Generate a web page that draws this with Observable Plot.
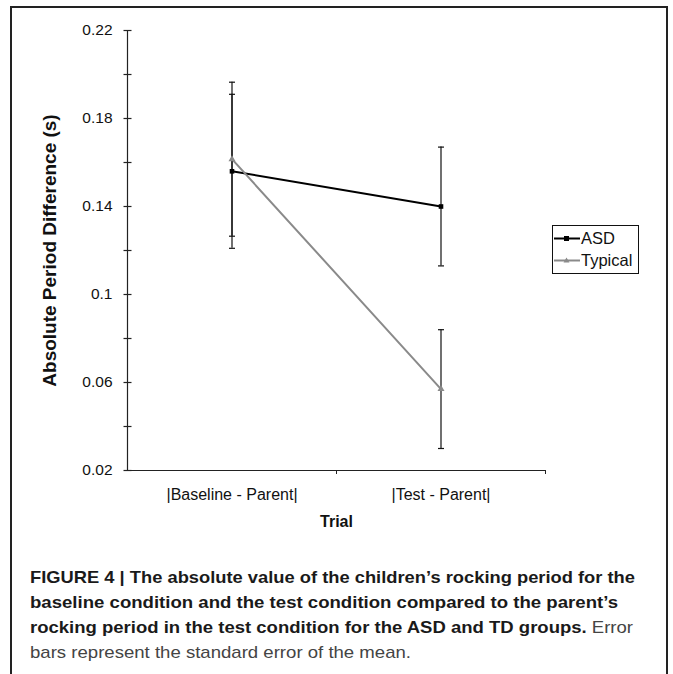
<!DOCTYPE html>
<html>
<head>
<meta charset="utf-8">
<script src="https://cdn.jsdelivr.net/npm/d3@7"></script>
<script src="https://cdn.jsdelivr.net/npm/@observablehq/plot@0.6"></script>
<style>
  html, body { margin: 0; padding: 0; background: #fff; }
  #page { position: relative; width: 673px; height: 674px; overflow: hidden; font-family: "Liberation Sans", Arial, sans-serif; }
  #frame { position: absolute; left: 10px; top: 6px; width: 658px; height: 700px; border: 2.5px solid #222; box-sizing: border-box; }
  #chart { position: absolute; left: 0; top: 0; }
  #legend { position: absolute; left: 552px; top: 225px; width: 87px; height: 49px; border: 1.5px solid #111; box-sizing: border-box; background: #fff; font-size: 16.5px; color: #111; }
  #legend .row { display: flex; align-items: center; height: 22px; }
  #legend svg { display: block; }
  #caption { position: absolute; left: 0; top: 540px; }
</style>
</head>
<body>
<div id="page">
  <div id="frame"></div>
  <div id="chart"></div>
  <div id="legend"></div>
  <svg id="caption" width="673" height="134"></svg>
</div>
<script>
// ---- data ----
const trials = ["|Baseline - Parent|", "|Test - Parent|"];
const groups = ["ASD", "Typical"];
const asdMean = [0.156, 0.140];
const asdSE = [0.035, 0.027];
const typicalMean = [0.1615, 0.057];
const typicalSE = [0.035, 0.027];
const yLabelTicks = [0.02, 0.06, 0.1, 0.14, 0.18, 0.22];
const yAllTicks = [0.02, 0.04, 0.06, 0.08, 0.1, 0.12, 0.14, 0.16, 0.18, 0.2, 0.22];
const colors = ["#000000", "#8a8a8a"];

const rows = [];
trials.forEach((t, i) => {
  rows.push({pos: i + 0.5, trial: t, group: "ASD", mean: asdMean[i], se: asdSE[i]});
  rows.push({pos: i + 0.5, trial: t, group: "Typical", mean: typicalMean[i], se: typicalSE[i]});
});

// horizontal line symbol (radius = half length)
const hline = {draw(ctx, size) { const r = Math.sqrt(size / Math.PI); ctx.moveTo(-r, 0); ctx.lineTo(r, 0); }};

const font = '"Liberation Sans", Arial, sans-serif';

const chart = Plot.plot({
  width: 673,
  height: 545,
  marginLeft: 127,
  marginRight: 128,
  marginTop: 30,
  marginBottom: 75,
  style: {fontFamily: font, fontSize: "15px", color: "#111", background: "transparent", overflow: "visible"},
  x: {type: "linear", domain: [0, 2]},
  y: {domain: [0.02, 0.22]},
  color: {domain: groups, range: colors},
  marks: [
    Plot.axisY({ticks: yLabelTicks, tickSize: 0, tickPadding: 15, tickFormat: d => String(+d.toFixed(2)), fontSize: 15.5,
      label: "Absolute Period Difference (s)", labelAnchor: "center", labelArrow: "none", labelOffset: 85}),
    Plot.axisX({ticks: [0.5, 1.5], tickSize: 0, tickPadding: 18, tickFormat: d => trials[Math.floor(d)], fontSize: 16,
      label: "Trial", labelAnchor: "center", labelArrow: "none", labelOffset: 56}),
    Plot.axisX({ticks: [1, 2], tickSize: 4, tickFormat: () => "", label: null, stroke: "#222"}),
    Plot.ruleX([0], {stroke: "#222", strokeWidth: 1.2}),
    Plot.ruleY([0.02], {stroke: "#222", strokeWidth: 1.2}),
    Plot.dot(yAllTicks, {x: 0, y: d => d, symbol: hline, r: 4, stroke: "#222", fill: "none", strokeWidth: 1.2}),
    Plot.line(rows, {x: "pos", y: "mean", z: "group", stroke: "group", strokeWidth: 2}),
    Plot.ruleX(rows, {x: "pos", y1: d => d.mean - d.se, y2: d => d.mean + d.se, stroke: "#111", strokeWidth: 1.2}),
    Plot.dot(rows, {x: "pos", y: d => d.mean - d.se, symbol: hline, r: 3, stroke: "#111", fill: "none", strokeWidth: 1.2}),
    Plot.dot(rows, {x: "pos", y: d => d.mean + d.se, symbol: hline, r: 3, stroke: "#111", fill: "none", strokeWidth: 1.2}),
    Plot.dot(rows.filter(d => d.group === "ASD"), {x: "pos", y: "mean", symbol: "square", r: 2.6, fill: colors[0], stroke: null}),
    Plot.dot(rows.filter(d => d.group === "Typical"), {x: "pos", y: "mean", symbol: "triangle", r: 2.6, fill: colors[1], stroke: null})
  ]
});
chart.querySelectorAll("[aria-label='y-axis label'] text").forEach(t => {
  t.setAttribute("font-weight", "bold"); t.setAttribute("font-size", "19");
});
chart.querySelectorAll("[aria-label='x-axis label'] text").forEach(t => {
  t.setAttribute("font-weight", "bold"); t.setAttribute("font-size", "16");
});
document.getElementById("chart").appendChild(chart);

// ---- legend ----
const legend = document.getElementById("legend");
groups.forEach((g, i) => {
  const row = document.createElement("div");
  row.className = "row";
  row.style.marginTop = i === 0 ? "1px" : "0px";
  const sym = i === 0
    ? `<rect x="11" y="9" width="5" height="5" fill="${colors[i]}"/>`
    : `<path d="M13.5,8.5 L16.5,13.5 L10.5,13.5 Z" fill="${colors[i]}"/>`;
  row.innerHTML = `<svg width="28" height="22"><line x1="1" x2="27" y1="11.5" y2="11.5" stroke="${colors[i]}" stroke-width="2"/>${sym}</svg><span>${g}</span>`;
  legend.appendChild(row);
});

// ---- caption ----
const cap = d3.select("#caption");
const capFont = '"Liberation Sans", Arial, sans-serif';
const capLines = [
  {y: 43, len: 605, parts: [["FIGURE 4 | The absolute value of the children\u2019s rocking period for the", "bold"]]},
  {y: 68, len: 588, parts: [["baseline condition and the test condition compared to the parent\u2019s", "bold"]]},
  {y: 93, len: 603, parts: [["rocking period in the test condition for the ASD and TD groups.", "bold"], [" Error", "normal"]]},
  {y: 118, len: 381, parts: [["bars represent the standard error of the mean.", "normal"]]}
];
capLines.forEach(l => {
  const t = cap.append("text").attr("x", 30).attr("y", l.y)
    .attr("font-family", capFont).attr("font-size", 17).attr("fill", "#222")
    .attr("textLength", l.len).attr("lengthAdjust", "spacingAndGlyphs");
  l.parts.forEach(p => t.append("tspan").attr("font-weight", p[1]).attr("fill", p[1] === "bold" ? "#1a1a1a" : "#444").text(p[0]));
});
</script>
</body>
</html>
